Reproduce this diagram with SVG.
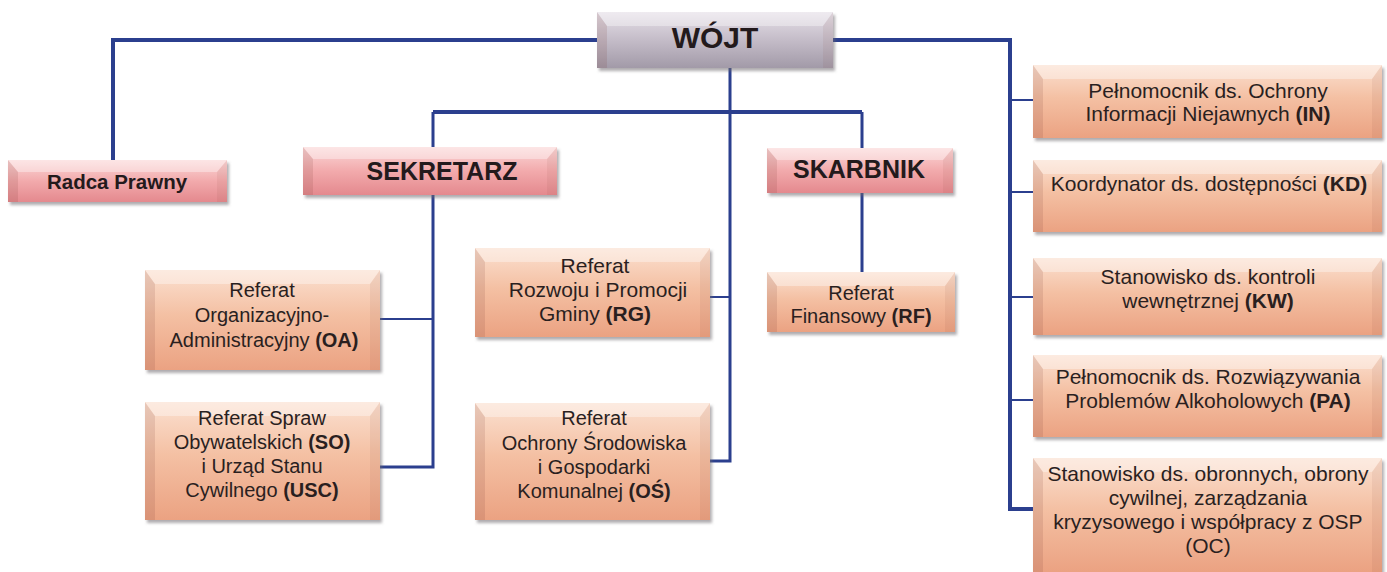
<svg xmlns="http://www.w3.org/2000/svg" width="1387" height="572" viewBox="0 0 1387 572">
<style>
.t{font-family:"Liberation Sans",Arial,sans-serif;font-size:20px;fill:#2a1f1f;text-anchor:middle}
.r{font-size:21px}
.b{font-weight:bold}
.h{font-family:"Liberation Sans",Arial,sans-serif;font-weight:bold;fill:#231a1c;text-anchor:middle}
.peach{fill:url(#gPeach)}
.pink{fill:url(#gPink)}
.gray{fill:url(#gGray)}
.bl{fill:#7a3a30;fill-opacity:0.14}
.br{fill:#7a3a30;fill-opacity:0.08}
.bt{fill:#ffffff;fill-opacity:0.35}
.sh{fill:#6d6a70;fill-opacity:0.55;filter:url(#blur)}
.c{fill:none;stroke:#2b3f8e;stroke-linejoin:miter}
.c4{stroke-width:4}
.c3{stroke-width:3}
.c2{stroke-width:2}
</style>
<defs>
<linearGradient id="gPeach" x1="0" y1="0" x2="0" y2="1">
<stop offset="0" stop-color="#fbe0d0"/>
<stop offset="0.45" stop-color="#f4c0a3"/>
<stop offset="1" stop-color="#eba282"/>
</linearGradient>
<linearGradient id="gPink" x1="0" y1="0" x2="0" y2="1">
<stop offset="0" stop-color="#fbd8d8"/>
<stop offset="0.5" stop-color="#f2aaac"/>
<stop offset="1" stop-color="#e4898e"/>
</linearGradient>
<linearGradient id="gGray" x1="0" y1="0" x2="0" y2="1">
<stop offset="0" stop-color="#e6e0e8"/>
<stop offset="0.5" stop-color="#c4bcc8"/>
<stop offset="1" stop-color="#a29aa8"/>
</linearGradient>
<filter id="blur" x="-10%" y="-10%" width="120%" height="130%"><feGaussianBlur stdDeviation="1.5"/></filter>
</defs>
<rect width="1387" height="572" fill="#ffffff"/>

<g id="connectors">
<path class="c c4" d="M597,40 H113 V160"/>
<path class="c c4" d="M833,40 H1010 V509 H1033"/>
<path class="c c2" d="M1010,100 H1033 M1010,192 H1033 M1010,297 H1033 M1010,400 H1033"/>
<path class="c c3" d="M730,68 V461 H710"/>
<path class="c c2" d="M710,297 H730"/>
<path class="c c4" d="M433,112 H862"/>
<path class="c c3" d="M433,112 V147 M433,195 V467 H380"/>
<path class="c c2" d="M380,319 H433"/>
<path class="c c3" d="M862,112 V148 M862,193 V272"/>
</g>

<g id="wojt">
<rect class="sh" x="599" y="15" width="236" height="56"/>
<rect class="gray" x="597" y="12" width="236" height="56"/>
<polygon class="bl" points="597,12 607,26 607,68 597,68"/>
<polygon class="br" points="833,12 823,26 823,68 833,68"/>
<polygon class="bt" points="597,12 833,12 823,26 607,26"/>
<text class="h" x="715" y="48" font-size="30">WÓJT</text>
</g>

<g id="radca">
<rect class="sh" x="10" y="163" width="219" height="42"/>
<rect class="pink" x="8" y="160" width="219" height="42"/>
<polygon class="bl" points="8,160 18,172 18,202 8,202"/>
<polygon class="br" points="227,160 217,172 217,202 227,202"/>
<polygon class="bt" points="8,160 227,160 217,172 18,172"/>
<text class="h" x="117" y="189" font-size="20.5">Radca Prawny</text>
</g>

<g id="sekretarz">
<rect class="sh" x="305" y="150" width="254" height="48"/>
<rect class="pink" x="303" y="147" width="254" height="48"/>
<polygon class="bl" points="303,147 313,159 313,195 303,195"/>
<polygon class="br" points="557,147 547,159 547,195 557,195"/>
<polygon class="bt" points="303,147 557,147 547,159 313,159"/>
<text class="h" x="442" y="180" font-size="25">SEKRETARZ</text>
</g>

<g id="skarbnik">
<rect class="sh" x="769" y="151" width="186" height="45"/>
<rect class="pink" x="767" y="148" width="186" height="45"/>
<polygon class="bl" points="767,148 777,160 777,193 767,193"/>
<polygon class="br" points="953,148 943,160 943,193 953,193"/>
<polygon class="bt" points="767,148 953,148 943,160 777,160"/>
<text class="h" x="859" y="178" font-size="25">SKARBNIK</text>
</g>

<g id="oa">
<rect class="sh" x="147" y="273" width="235" height="100"/>
<rect class="peach" x="145" y="270" width="235" height="100"/>
<polygon class="bl" points="145,270 155,284 155,370 145,370"/>
<polygon class="br" points="380,270 370,284 370,370 380,370"/>
<polygon class="bt" points="145,270 380,270 370,284 155,284"/>
<text class="t" x="262" y="297">Referat</text>
<text class="t" x="262" y="322">Organizacyjno-</text>
<text class="t" x="264" y="347">Administracyjny <tspan class="b">(OA)</tspan></text>
</g>

<g id="so">
<rect class="sh" x="147" y="405" width="235" height="118"/>
<rect class="peach" x="145" y="402" width="235" height="118"/>
<polygon class="bl" points="145,402 155,416 155,520 145,520"/>
<polygon class="br" points="380,402 370,416 370,520 380,520"/>
<polygon class="bt" points="145,402 380,402 370,416 155,416"/>
<text class="t" x="262" y="425">Referat Spraw</text>
<text class="t" x="262" y="449">Obywatelskich <tspan class="b">(SO)</tspan></text>
<text class="t" x="262" y="473">i Urząd Stanu</text>
<text class="t" x="262" y="497">Cywilnego <tspan class="b">(USC)</tspan></text>
</g>

<g id="rg">
<rect class="sh" x="477" y="251" width="235" height="89"/>
<rect class="peach" x="475" y="248" width="235" height="89"/>
<polygon class="bl" points="475,248 485,262 485,337 475,337"/>
<polygon class="br" points="710,248 700,262 700,337 710,337"/>
<polygon class="bt" points="475,248 710,248 700,262 485,262"/>
<text class="t r" x="595" y="273">Referat</text>
<text class="t r" x="598" y="297">Rozwoju i Promocji</text>
<text class="t r" x="595" y="321">Gminy <tspan class="b">(RG)</tspan></text>
</g>

<g id="os">
<rect class="sh" x="477" y="406" width="235" height="117"/>
<rect class="peach" x="475" y="403" width="235" height="117"/>
<polygon class="bl" points="475,403 485,417 485,520 475,520"/>
<polygon class="br" points="710,403 700,417 700,520 710,520"/>
<polygon class="bt" points="475,403 710,403 700,417 485,417"/>
<text class="t" x="594" y="425">Referat</text>
<text class="t" x="594" y="450">Ochrony Środowiska</text>
<text class="t" x="594" y="474">i Gospodarki</text>
<text class="t" x="594" y="498">Komunalnej <tspan class="b">(OŚ)</tspan></text>
</g>

<g id="rf">
<rect class="sh" x="769" y="275" width="188" height="60"/>
<rect class="peach" x="767" y="272" width="188" height="60"/>
<polygon class="bl" points="767,272 777,286 777,332 767,332"/>
<polygon class="br" points="955,272 945,286 945,332 955,332"/>
<polygon class="bt" points="767,272 955,272 945,286 777,286"/>
<text class="t" x="861" y="300">Referat</text>
<text class="t" x="861" y="323">Finansowy <tspan class="b">(RF)</tspan></text>
</g>

<g id="in">
<rect class="sh" x="1035" y="68" width="349" height="73"/>
<rect class="peach" x="1033" y="65" width="349" height="73"/>
<polygon class="bl" points="1033,65 1043,79 1043,138 1033,138"/>
<polygon class="br" points="1382,65 1372,79 1372,138 1382,138"/>
<polygon class="bt" points="1033,65 1382,65 1372,79 1043,79"/>
<text class="t r" x="1208" y="98">Pełnomocnik ds. Ochrony</text>
<text class="t r" x="1208" y="121">Informacji Niejawnych <tspan class="b">(IN)</tspan></text>
</g>

<g id="kd">
<rect class="sh" x="1035" y="163" width="349" height="72"/>
<rect class="peach" x="1033" y="160" width="349" height="72"/>
<polygon class="bl" points="1033,160 1043,174 1043,232 1033,232"/>
<polygon class="br" points="1382,160 1372,174 1372,232 1382,232"/>
<polygon class="bt" points="1033,160 1382,160 1372,174 1043,174"/>
<text class="t r" x="1209" y="191">Koordynator ds. dostępności <tspan class="b">(KD)</tspan></text>
</g>

<g id="kw">
<rect class="sh" x="1035" y="261" width="349" height="77"/>
<rect class="peach" x="1033" y="258" width="349" height="77"/>
<polygon class="bl" points="1033,258 1043,272 1043,335 1033,335"/>
<polygon class="br" points="1382,258 1372,272 1372,335 1382,335"/>
<polygon class="bt" points="1033,258 1382,258 1372,272 1043,272"/>
<text class="t r" x="1208" y="284">Stanowisko ds. kontroli</text>
<text class="t r" x="1208" y="308">wewnętrznej <tspan class="b">(KW)</tspan></text>
</g>

<g id="pa">
<rect class="sh" x="1035" y="358" width="349" height="82"/>
<rect class="peach" x="1033" y="355" width="349" height="82"/>
<polygon class="bl" points="1033,355 1043,369 1043,437 1033,437"/>
<polygon class="br" points="1382,355 1372,369 1372,437 1382,437"/>
<polygon class="bt" points="1033,355 1382,355 1372,369 1043,369"/>
<text class="t r" x="1208" y="384">Pełnomocnik ds. Rozwiązywania</text>
<text class="t r" x="1208" y="408">Problemów Alkoholowych <tspan class="b">(PA)</tspan></text>
</g>

<g id="oc">
<rect class="sh" x="1035" y="461" width="349" height="114"/>
<rect class="peach" x="1033" y="458" width="349" height="114"/>
<polygon class="bl" points="1033,458 1043,472 1043,572 1033,572"/>
<polygon class="br" points="1382,458 1372,472 1372,572 1382,572"/>
<polygon class="bt" points="1033,458 1382,458 1372,472 1043,472"/>
<text class="t r" x="1208" y="481">Stanowisko ds. obronnych, obrony</text>
<text class="t r" x="1208" y="505">cywilnej, zarządzania</text>
<text class="t r" x="1208" y="529">kryzysowego i współpracy z OSP</text>
<text class="t r" x="1208" y="553">(OC)</text>
</g>
</svg>
